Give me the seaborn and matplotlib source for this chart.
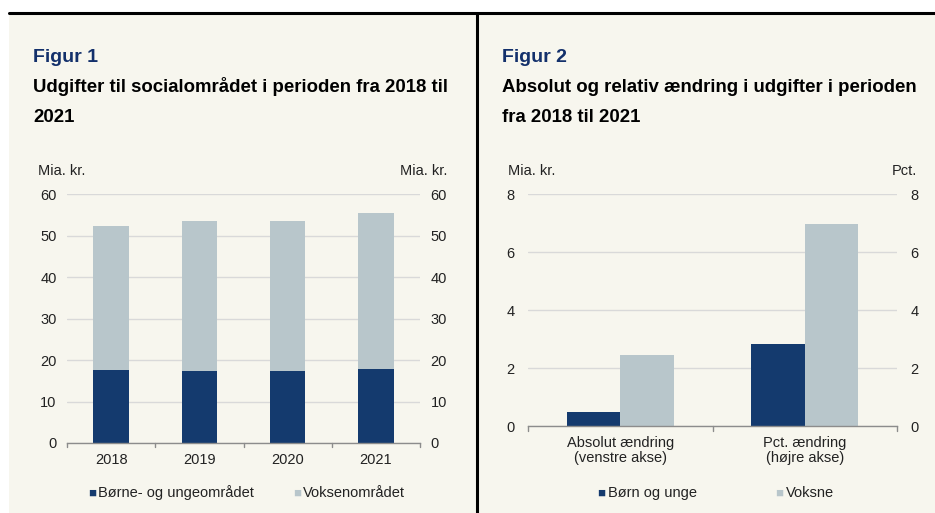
import matplotlib
matplotlib.use("Agg")
import matplotlib.pyplot as plt
import seaborn as sns
import pandas as pd
from matplotlib.patches import Rectangle
from matplotlib.lines import Line2D

sns.set_theme(style="white")
plt.rcParams['font.family'] = ['Liberation Sans', 'DejaVu Sans']

# ---- Data ----
years = ["2018", "2019", "2020", "2021"]
boern_unge = [17.5, 17.3, 17.3, 17.9]
total_fig1 = [52.4, 53.4, 53.6, 55.4]
fig1_series = ["Børne- og ungeområdet", "Voksenområdet"]

fig2_categories = ["Absolut ændring\n(venstre akse)", "Pct. ændring\n(højre akse)"]
fig2_boern = [0.5, 2.82]
fig2_voksne = [2.44, 6.98]
fig2_series = ["Børn og unge", "Voksne"]

NAVY = "#143a6e"
LIGHT = "#b8c6cb"
BG = "#f7f6ee"
GRID = "#d9d9d9"
TEXT = "#222222"
TITLE_BLUE = "#13306b"
FS = 10.5

W, H = 935, 513
fig = plt.figure(figsize=(W / 100, H / 100), dpi=100)
fig.patch.set_facecolor("white")

def px_rect(x0, y0, x1, y1):
    return [x0 / W, 1 - y1 / H, (x1 - x0) / W, (y1 - y0) / H]

def fx(x):
    return x / W

def fy(y):
    return 1 - y / H

# background panel
bg = fig.add_axes([0, 0, 1, 1], zorder=-10)
bg.set_xlim(0, W); bg.set_ylim(H, 0); bg.axis("off")
bg.add_patch(Rectangle((9, 13), W - 9, H - 13, facecolor=BG, edgecolor="none"))
bg.add_line(Line2D([9, W], [13, 13], color="black", lw=2.2))
bg.add_line(Line2D([477, 477], [13, H], color="black", lw=2.2))

# Titles
TS = 13.4
fig.text(fx(33), fy(62), "Figur 1", fontsize=14, fontweight="bold", color=TITLE_BLUE, va="baseline")
fig.text(fx(33), fy(92), "Udgifter til socialområdet i perioden fra 2018 til", fontsize=TS, fontweight="bold", color="black", va="baseline")
fig.text(fx(33), fy(122), "2021", fontsize=TS, fontweight="bold", color="black", va="baseline")
fig.text(fx(502), fy(62), "Figur 2", fontsize=14, fontweight="bold", color=TITLE_BLUE, va="baseline")
fig.text(fx(502), fy(92), "Absolut og relativ ændring i udgifter i perioden", fontsize=TS, fontweight="bold", color="black", va="baseline")
fig.text(fx(502), fy(122), "fra 2018 til 2021", fontsize=TS, fontweight="bold", color="black", va="baseline")

def style_axis(ax, ymax, step, pad):
    ax.set_facecolor("none")
    ax.set_ylim(0, ymax)
    ax.set_yticks(range(0, ymax + 1, step))
    for s in ["top", "left", "right"]:
        ax.spines[s].set_visible(False)
    ax.spines["bottom"].set_color("#8c8c8c")
    ax.spines["bottom"].set_linewidth(1.0)
    ax.yaxis.grid(True, color=GRID, lw=1.0)
    ax.set_axisbelow(True)
    ax.tick_params(axis="y", length=0, labelsize=FS, labelcolor=TEXT, pad=pad,
                   labelleft=True, labelright=True)
    ax.tick_params(axis="x", length=0, labelsize=FS, labelcolor=TEXT, pad=7)
    ax.set_xlabel(""); ax.set_ylabel("")

# ---- Figure 1 ----
ax1 = fig.add_axes(px_rect(67, 194, 420, 443))
df1 = pd.DataFrame({"year": years, "total": total_fig1, "boern": boern_unge})
sns.barplot(data=df1, x="year", y="total", color=LIGHT, width=0.4, ax=ax1,
            saturation=1, linewidth=0)
sns.barplot(data=df1, x="year", y="boern", color=NAVY, width=0.4, ax=ax1,
            saturation=1, linewidth=0)
style_axis(ax1, 60, 10, pad=7.5)
ax1.set_xlim(-0.5, len(years) - 0.5)
for b in [i - 0.5 for i in range(len(years) + 1)]:
    ax1.plot([b, b], [0, -0.016 * 60], color="#8c8c8c", lw=1.0, clip_on=False)
fig.text(fx(38), fy(175), "Mia. kr.", ha="left", va="baseline", fontsize=FS, color=TEXT)
fig.text(fx(447), fy(175), "Mia. kr.", ha="right", va="baseline", fontsize=FS, color=TEXT)

# legend 1
LY = 497
fig.text(fx(88), fy(LY), "■", fontsize=9.5, color=NAVY, va="baseline", ha="left")
fig.text(fx(98), fy(LY), fig1_series[0], fontsize=FS, color=TEXT, va="baseline")
fig.text(fx(293), fy(LY), "■", fontsize=9.5, color=LIGHT, va="baseline", ha="left")
fig.text(fx(303), fy(LY), fig1_series[1], fontsize=FS, color=TEXT, va="baseline")

# ---- Figure 2 ----
ax2 = fig.add_axes(px_rect(528, 194, 897, 426))
df2 = pd.DataFrame({
    "cat": fig2_categories * 2,
    "value": fig2_boern + fig2_voksne,
    "series": [fig2_series[0]] * 2 + [fig2_series[1]] * 2,
})
sns.barplot(data=df2, x="cat", y="value", hue="series", palette=[NAVY, LIGHT],
            width=0.58, ax=ax2, saturation=1, legend=False, gap=0, linewidth=0)
style_axis(ax2, 8, 2, pad=9.5)
ax2.set_xlim(-0.5, 1.5)
for b in [-0.5, 0.5, 1.5]:
    ax2.plot([b, b], [0, -0.02 * 8], color="#8c8c8c", lw=1.0, clip_on=False)
for lab in ax2.get_xticklabels():
    lab.set_linespacing(1.15)
fig.text(fx(508), fy(175), "Mia. kr.", ha="left", va="baseline", fontsize=FS, color=TEXT)
fig.text(fx(917), fy(175), "Pct.", ha="right", va="baseline", fontsize=FS, color=TEXT)

fig.text(fx(597), fy(LY), "■", fontsize=9.5, color=NAVY, va="baseline", ha="left")
fig.text(fx(608), fy(LY), fig2_series[0], fontsize=FS, color=TEXT, va="baseline")
fig.text(fx(775), fy(LY), "■", fontsize=9.5, color=LIGHT, va="baseline", ha="left")
fig.text(fx(786), fy(LY), fig2_series[1], fontsize=FS, color=TEXT, va="baseline")

fig.savefig("out.png", dpi=100, facecolor=fig.get_facecolor())
